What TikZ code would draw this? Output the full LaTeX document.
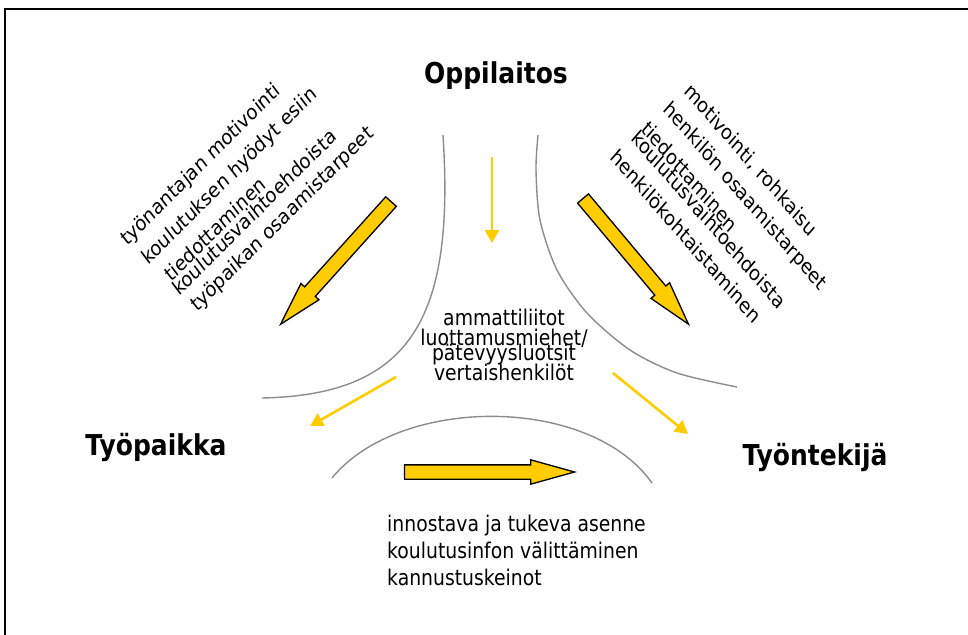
\documentclass[tikz,border=0pt]{standalone}
\usepackage{fontspec}
\setmainfont{DejaVu Sans}
\usepackage{tikz}
\usetikzlibrary{shapes,arrows.meta}
\definecolor{arrowyellow}{HTML}{FFCC00}
\definecolor{arcgray}{HTML}{8C8C8C}

\tikzset{
  party/.style={font=\fontsize{25}{30}\selectfont\bfseries, inner sep=0pt, anchor=base, yscale=1.15},
  listtext/.style={font=\fontsize{18.8}{22}\selectfont, inner sep=0pt, anchor=base west, yscale=1.15},
  slanttext/.style={listtext, font=\fontsize{18}{21}\selectfont},
  midtext/.style={listtext, anchor=base},
  bigarrow/.style={single arrow, draw=black, line width=1.3pt, fill=arrowyellow,
    inner xsep=0pt, inner ysep=6.5pt, single arrow head extend=5pt,
    single arrow tip angle=31, anchor=tip},
  thinarrow/.style={draw=arrowyellow, line width=2.6pt, -{Triangle[length=13pt,width=14pt]}},
  bowline/.style={draw=arcgray, line width=1.4pt}
}

\begin{document}
\begin{tikzpicture}[x=1pt,y=-1pt]
\useasboundingbox (0,0) rectangle (968,634);
\draw[line width=2pt] (4.5,650) -- (4.5,9) -- (980,9);

% the three parties
\node[party] (oppi) at (496,83) {Oppilaitos};
\node[party] (tyopaikka) at (156,455) {Työpaikka};
\node[party] (tyontekija) at (815,465) {Työntekijä};

% arcs
\draw[bowline] (443,135) .. controls (455,320) and (410,395) .. (262,398);
\draw[bowline] plot[smooth] coordinates {(538,135) (536,170) (540,220) (557,270) (587,313) (630,350) (677,373) (737,387)};
\draw[bowline] (332,478) .. controls (400,395) and (590,395) .. (652,483);

% Oppilaitos -> Tyopaikka
\node[slanttext, rotate=41] (L1) at (127,247) {työnantajan motivointi};
\node[slanttext, rotate=41] (L2) at (148,266) {koulutuksen hyödyt esiin};
\node[slanttext, rotate=41] (L3) at (171,283) {tiedottaminen};
\node[slanttext, rotate=41] (L4) at (179,297) {koulutusvaihtoehdoista};
\node[slanttext, rotate=41] (L5) at (197,313) {työpaikan osaamistarpeet};

% Oppilaitos -> Tyontekija
\node[slanttext, rotate=-45] (R1) at (683,92) {motivointi, rohkaisu};
\node[slanttext, rotate=-45] (R2) at (662,110) {henkilön osaamistarpeet};
\node[slanttext, rotate=-45] (R3) at (640,130) {tiedottaminen};
\node[slanttext, rotate=-45] (R4) at (630,139) {koulutusvaihtoehdoista};
\node[slanttext, rotate=-45] (R5) at (609,158) {henkilökohtaistaminen};

% middle
\node[midtext] (C1) at (504,325) {ammattiliitot};
\node[midtext] (C2) at (504,345) {luottamusmiehet/};
\node[midtext] (C3) at (504,360) {pätevyysluotsit};
\node[midtext] (C4) at (504,380) {vertaishenkilöt};

% Tyopaikka -> Tyontekija
\node[listtext] (B1) at (387,531) {innostava ja tukeva asenne};
\node[listtext] (B2) at (387,558) {koulutusinfon välittäminen};
\node[listtext] (B3) at (387,585) {kannustuskeinot};

% big arrows
\node[bigarrow, minimum height=165pt, rotate=-132] (arrowL) at (279,326) {};
\node[bigarrow, minimum height=164pt, rotate=-50] (arrowR) at (690,326) {};
\node[bigarrow, minimum height=170pt] (arrowB) at (577,472) {};

% thin arrows
\coordinate (v1) at (492,157);
\coordinate (v2) at (492,243);
\coordinate (l1) at (396,377);
\coordinate (l2) at (310,426);
\coordinate (r1) at (613,373);
\coordinate (r2) at (688,434);
\draw[thinarrow] (v1) -- (v2);
\draw[thinarrow] (l1) -- (l2);
\draw[thinarrow] (r1) -- (r2);
\end{tikzpicture}
\end{document}
